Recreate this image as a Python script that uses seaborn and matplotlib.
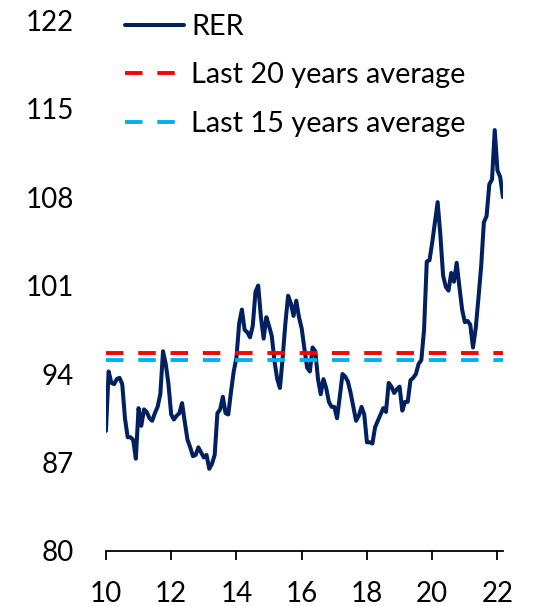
import numpy as np
import pandas as pd
import matplotlib
matplotlib.use("Agg")
import matplotlib.pyplot as plt
import seaborn as sns

# Monthly RER, Jan 2010 .. Mar 2022
rer = [89.5, 94.2, 93.3, 93.2, 93.6, 93.7, 93.2, 90.5, 89.0, 89.0,
       88.8, 87.3, 91.3, 89.9, 91.2, 91.0, 90.5, 90.3, 90.9, 91.4,
       92.4, 95.8, 94.8, 93.2, 90.8, 90.4, 90.7, 90.9, 91.7, 90.2,
       88.8, 88.2, 87.5, 87.6, 88.2, 87.8, 87.4, 87.6, 86.5, 86.9,
       87.6, 90.9, 91.2, 92.2, 90.9, 90.8, 92.6, 94.2, 95.3, 98.0,
       99.1, 97.5, 97.3, 96.9, 97.8, 100.5, 101.0, 98.5, 96.8, 98.5,
       97.8, 97.0, 95.0, 93.6, 92.9, 95.3, 98.0, 100.2, 99.6, 98.6,
       99.8, 98.5, 97.6, 96.0, 94.5, 94.2, 96.1, 95.8, 93.6, 92.4,
       93.6, 92.9, 91.8, 91.4, 91.4, 90.5, 92.2, 94.0, 93.8, 93.4,
       92.5, 91.4, 90.3, 90.7, 91.4, 90.8, 88.6, 88.6, 88.5, 89.8,
       90.3, 90.8, 91.3, 91.0, 93.3, 93.0, 92.5, 92.8, 93.0, 91.1,
       91.8, 91.8, 93.5, 93.7, 94.0, 94.8, 95.1, 97.5, 102.9, 103.0,
       104.4, 106.0, 107.6, 105.0, 101.8, 100.9, 100.6, 102.0, 101.3, 102.8,
       100.9, 99.1, 98.1, 98.2, 97.9, 96.1, 97.6, 100.0, 102.5, 106.0,
       106.5, 109.0, 109.4, 113.3, 110.1, 109.6, 108.0]
avg20 = 95.7
avg15 = 95.1
start_year = 10
yticks = [80, 87, 94, 101, 108, 115, 122]
xticks = [10, 12, 14, 16, 18, 20, 22]
labels = ["RER", "Last 20 years average", "Last 15 years average"]

t = [start_year + i / 12 for i in range(len(rer))]
df = pd.DataFrame({"t": t, "RER": rer,
                   "a20": [avg20] * len(rer), "a15": [avg15] * len(rer)})

sns.set_theme(style="white")
plt.rcParams['font.family'] = ['Lato', 'DejaVu Sans']

fig = plt.figure(figsize=(5.35, 6.06), dpi=100)
ax = fig.add_axes([0.198, 0.0908, 0.742, 0.876])

navy = "#002060"
red = "#FF0000"
cyan = "#00B0F0"

sns.lineplot(data=df, x="t", y="RER", ax=ax, color=navy, lw=2.9, label=labels[0])
sns.lineplot(data=df, x="t", y="a20", ax=ax, color=red, lw=2.8, label=labels[1])
ax.lines[-1].set_dashes((4.5, 3.8))
sns.lineplot(data=df, x="t", y="a15", ax=ax, color=cyan, lw=2.8, label=labels[2])
ax.lines[-1].set_dashes((4.5, 3.8))

ax.set_xlim(10, t[-1])
ax.set_ylim(80, 122)
ax.set_xticks(xticks)
ax.set_xticklabels([str(x) for x in xticks])
ax.set_yticks(yticks)
ax.set_yticklabels([str(y) for y in yticks])
ax.set_xlabel("")
ax.set_ylabel("")

for s in ["left", "right", "top"]:
    ax.spines[s].set_visible(False)
ax.spines["bottom"].set_color("#000000")
ax.spines["bottom"].set_linewidth(1.3)
ax.tick_params(axis="x", direction="out", length=6.5, width=1.3, color="#000000",
               pad=15, labelsize=20, labelcolor="#000000", bottom=True)
ax.tick_params(axis="y", length=0, pad=23, labelsize=20, labelcolor="#000000")
ax.grid(False)

leg = ax.legend(loc="upper left", bbox_to_anchor=(0.048, 1.012), frameon=False,
                fontsize=20.8, handlelength=2.05, handletextpad=0.24,
                labelspacing=0.78, borderaxespad=0, borderpad=0)
for txt in leg.get_texts():
    txt.set_color("#000000")

fig.savefig("out.png", dpi=100)
